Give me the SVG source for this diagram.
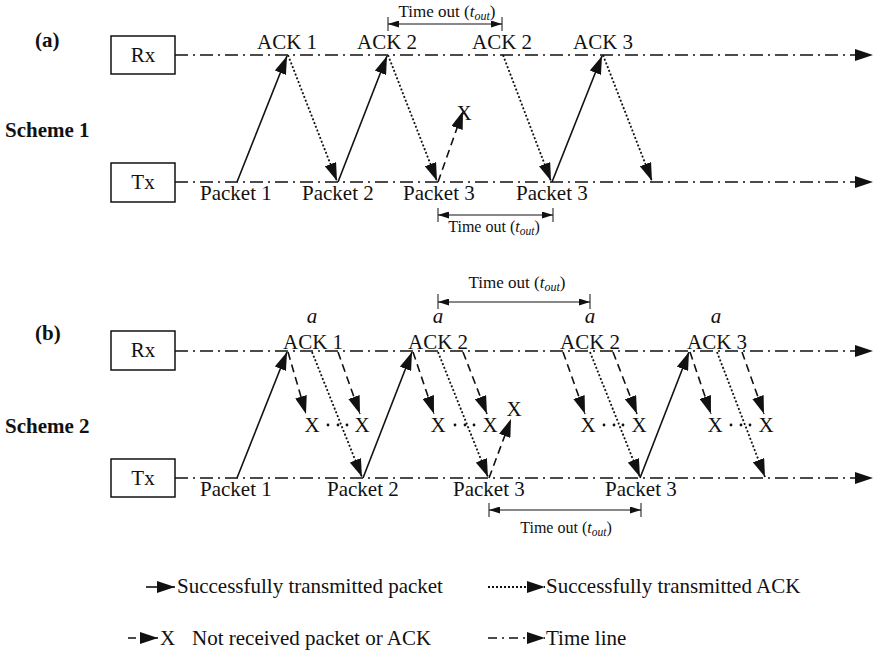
<svg xmlns="http://www.w3.org/2000/svg" width="874" height="652" viewBox="0 0 874 652" font-family="'Liberation Serif', 'Times New Roman', 'DejaVu Serif', serif">
<style>
text{font-family:'Liberation Serif','Times New Roman','DejaVu Serif',serif;fill:#111}
.lbl{font-size:21px}
.bold{font-size:21px;font-weight:bold}
.it{font-style:italic}
.box{fill:#fff;stroke:#111;stroke-width:1.5}
.tl{fill:none;stroke:#111;stroke-width:1.5;stroke-dasharray:13 5 2 5;marker-end:url(#ah)}
.pk{fill:none;stroke:#111;stroke-width:1.6;marker-end:url(#ah)}
.ack{fill:none;stroke:#111;stroke-width:1.8;stroke-dasharray:2 2;marker-end:url(#ah)}
.lost{fill:none;stroke:#111;stroke-width:1.6;stroke-dasharray:8 5;marker-end:url(#ah)}
.to{fill:none;stroke:#111;stroke-width:1;marker-start:url(#sh);marker-end:url(#sh)}
.tick{stroke:#111;stroke-width:1}
.dot{fill:#111}
</style>
<defs>
<marker id="ah" markerUnits="userSpaceOnUse" markerWidth="18" markerHeight="12" refX="18" refY="6" orient="auto">
<path d="M0,0 L18,6 L0,12 Z" fill="#111"/>
</marker>
<marker id="sh" markerUnits="userSpaceOnUse" markerWidth="11" markerHeight="7" refX="11" refY="3.5" orient="auto-start-reverse">
<path d="M0,0 L11,3.5 L0,7 Z" fill="#111"/>
</marker>
</defs>
<rect width="874" height="652" fill="#fff"/>

<g id="labels">
<text class="bold" font-weight="bold" x="35" y="47">(a)</text>
<text class="bold" font-weight="bold" x="5" y="137">Scheme 1</text>
<text class="bold" font-weight="bold" x="35" y="340">(b)</text>
<text class="bold" font-weight="bold" x="5" y="433">Scheme 2</text>
</g>

<g id="rx-a"><rect class="box" x="111" y="36" width="64" height="38"/><text class="lbl" x="143" y="62" text-anchor="middle">Rx</text></g>
<g id="tx-a"><rect class="box" x="111" y="163" width="64" height="39"/><text class="lbl" x="143" y="189" text-anchor="middle">Tx</text></g>
<g id="rx-b"><rect class="box" x="111" y="331" width="64" height="39"/><text class="lbl" x="143" y="357" text-anchor="middle">Rx</text></g>
<g id="tx-b"><rect class="box" x="111" y="459" width="64" height="38"/><text class="lbl" x="143" y="485" text-anchor="middle">Tx</text></g>

<g id="connectors">
<path class="tl" d="M175,55 H873"/>
<path class="tl" d="M175,182 H873"/>
<path class="tl" d="M175,351 H873"/>
<path class="tl" d="M175,478 H873"/>

<path class="pk" d="M237,182 L287,56"/>
<path class="ack" d="M288,55 L337,181"/>
<path class="pk" d="M338,182 L387,56"/>
<path class="ack" d="M388,55 L437,181"/>
<path class="lost" d="M438,182 L463,111"/>
<path class="ack" d="M503,55 L551,181"/>
<path class="pk" d="M552,182 L602,56"/>
<path class="ack" d="M603,55 L652,181"/>

<path class="pk" d="M237,478 L287,352"/>
<path class="lost" d="M288,352 L306,414"/>
<path class="lost" d="M338,352 L360,414"/>
<path class="ack" d="M312,352 L362,477"/>
<path class="pk" d="M363,478 L412,352"/>
<path class="lost" d="M413,352 L434,414"/>
<path class="lost" d="M463,352 L487,414"/>
<path class="ack" d="M438,352 L488,477"/>
<path class="lost" d="M489,478 L511,419"/>
<path class="lost" d="M563,352 L585,414"/>
<path class="lost" d="M613,352 L637,414"/>
<path class="ack" d="M590,352 L640,477"/>
<path class="pk" d="M640,478 L689,352"/>
<path class="lost" d="M690,352 L711,414"/>
<path class="lost" d="M742,352 L764,414"/>
<path class="ack" d="M717,352 L765,477"/>

<path class="to" d="M388,24 H502"/>
<line class="tick" x1="388" y1="17" x2="388" y2="31"/><line class="tick" x1="502" y1="17" x2="502" y2="31"/>
<path class="to" d="M438,215 H553"/>
<line class="tick" x1="438" y1="208" x2="438" y2="222"/><line class="tick" x1="553" y1="208" x2="553" y2="222"/>
<path class="to" d="M438,302 H590"/>
<line class="tick" x1="438" y1="294" x2="438" y2="309"/><line class="tick" x1="590" y1="294" x2="590" y2="309"/>
<path class="to" d="M489,510 H641"/>
<line class="tick" x1="489" y1="503" x2="489" y2="517"/><line class="tick" x1="641" y1="503" x2="641" y2="517"/>
</g>

<g id="scheme1-text" class="lbl">
<text x="257" y="49">ACK 1</text>
<text x="357" y="49">ACK 2</text>
<text x="472" y="49">ACK 2</text>
<text x="573" y="49">ACK 3</text>
<text x="200" y="200">Packet 1</text>
<text x="302" y="200">Packet 2</text>
<text x="403" y="200">Packet 3</text>
<text x="516" y="200">Packet 3</text>
<text x="464" y="120" text-anchor="middle">X</text>
<text x="447" y="17" text-anchor="middle" style="font-size:17px">Time out (<tspan class="it" font-style="italic">t</tspan><tspan class="it" font-style="italic" style="font-size:12px" dy="3">out</tspan><tspan dy="-3">)</tspan></text>
<text x="494" y="232" text-anchor="middle" style="font-size:16px">Time out (<tspan class="it" font-style="italic">t</tspan><tspan class="it" font-style="italic" style="font-size:11.5px" dy="3">out</tspan><tspan dy="-3">)</tspan></text>
</g>

<g id="scheme2-text" class="lbl">
<text x="283" y="349">ACK 1</text>
<text x="408" y="349">ACK 2</text>
<text x="560" y="349">ACK 2</text>
<text x="687" y="349">ACK 3</text>
<text class="it" font-style="italic" x="312" y="323" text-anchor="middle">a</text>
<text class="it" font-style="italic" x="438" y="323" text-anchor="middle">a</text>
<text class="it" font-style="italic" x="590" y="323" text-anchor="middle">a</text>
<text class="it" font-style="italic" x="716" y="323" text-anchor="middle">a</text>
<text x="200" y="496">Packet 1</text>
<text x="327" y="496">Packet 2</text>
<text x="453" y="496">Packet 3</text>
<text x="605" y="496">Packet 3</text>
<text x="312" y="432" text-anchor="middle">X</text>
<text x="362" y="432" text-anchor="middle">X</text>
<text x="438" y="432" text-anchor="middle">X</text>
<text x="490" y="432" text-anchor="middle">X</text>
<text x="588" y="432" text-anchor="middle">X</text>
<text x="639" y="432" text-anchor="middle">X</text>
<text x="715" y="432" text-anchor="middle">X</text>
<text x="766" y="432" text-anchor="middle">X</text>
<text x="514" y="416" text-anchor="middle">X</text>
<text x="517" y="288" text-anchor="middle" style="font-size:17px">Time out (<tspan class="it" font-style="italic">t</tspan><tspan class="it" font-style="italic" style="font-size:12px" dy="3">out</tspan><tspan dy="-3">)</tspan></text>
<text x="566" y="533" text-anchor="middle" style="font-size:16px">Time out (<tspan class="it" font-style="italic">t</tspan><tspan class="it" font-style="italic" style="font-size:11.5px" dy="3">out</tspan><tspan dy="-3">)</tspan></text>
</g>
<g id="dots">
<circle class="dot" cx="328" cy="425" r="1.4"/><circle class="dot" cx="338" cy="425" r="1.4"/><circle class="dot" cx="347" cy="425" r="1.4"/>
<circle class="dot" cx="455" cy="425" r="1.4"/><circle class="dot" cx="465" cy="425" r="1.4"/><circle class="dot" cx="474" cy="425" r="1.4"/>
<circle class="dot" cx="604" cy="425" r="1.4"/><circle class="dot" cx="614" cy="425" r="1.4"/><circle class="dot" cx="623" cy="425" r="1.4"/>
<circle class="dot" cx="731" cy="425" r="1.4"/><circle class="dot" cx="741" cy="425" r="1.4"/><circle class="dot" cx="750" cy="425" r="1.4"/>
</g>

<g id="legend">
<path class="pk" d="M146,587 H175"/>
<text class="lbl" x="177" y="593">Successfully transmitted packet</text>
<path class="ack" d="M488,587 H545"/>
<text class="lbl" x="546" y="593">Successfully transmitted ACK</text>
<path class="lost" d="M128,638 H158"/>
<text class="lbl" x="160" y="645">X</text>
<text class="lbl" x="192" y="645">Not received packet or ACK</text>
<path class="tl" d="M488,638 H545" style="stroke-dasharray:9 5 2 5"/>
<text class="lbl" x="546" y="645">Time line</text>
</g>
</svg>
